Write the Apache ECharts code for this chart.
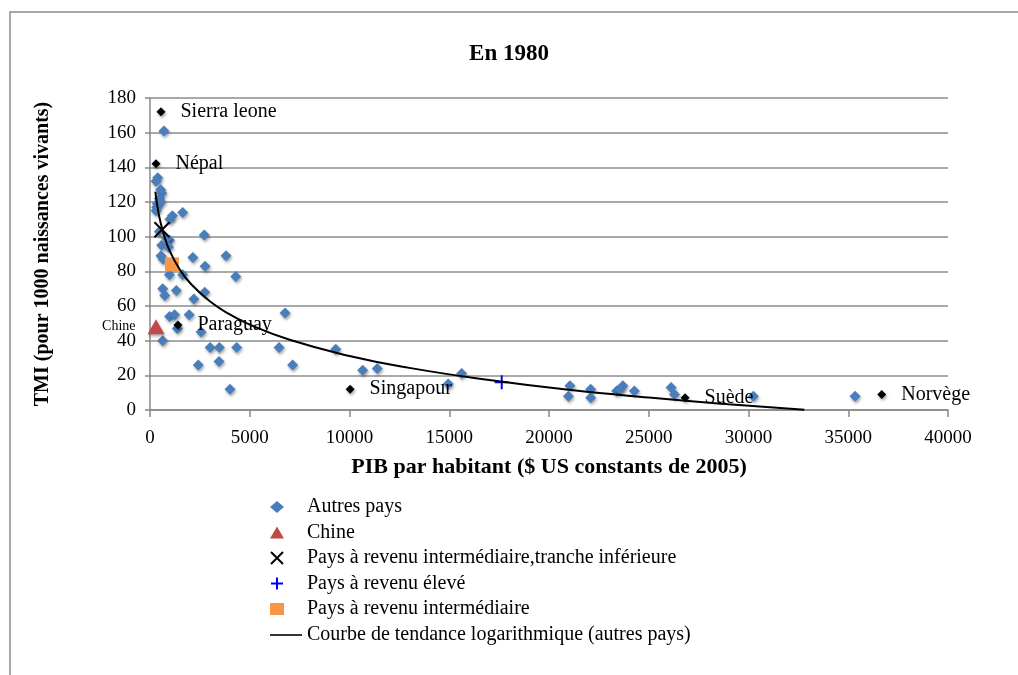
<!DOCTYPE html>
<html lang="fr">
<head>
    <meta charset="UTF-8" />
    <title>En 1980</title>
    <script src="https://cdn.jsdelivr.net/npm/echarts@6/dist/echarts.min.js"></script>
    <style>
        html, body { margin: 0; padding: 0; background: #fff; }
        #chart { width: 1018px; height: 675px; }
    </style>
</head>
<body>
<div id="chart"></div>
<script type="text/javascript">
    // valeurs (PIB par habitant, TMI)
    const autresPays = [
        [700, 161],
        [385, 134], [300, 132], [535, 127], [585, 125], [470, 122], [370, 119], [550, 120], [335, 117], [300, 115],
        [1120, 112], [1640, 114], [1000, 110], [470, 103], [2720, 101], [970, 98], [835, 99], [585, 95], [920, 94],
        [550, 89], [2150, 88], [3810, 89], [670, 87], [2760, 83], [970, 78], [1640, 78], [4300, 77],
        [635, 70], [1320, 69], [740, 66], [2740, 68], [2200, 64],
        [980, 54], [1230, 55], [1960, 55], [1370, 47], [2560, 45], [635, 40],
        [3010, 36], [3475, 36], [4345, 36], [3460, 28], [2420, 26], [4010, 12],
        [6770, 56], [6470, 36], [7150, 26], [9310, 35], [10660, 23], [11390, 24], [14950, 15], [15620, 21],
        [21050, 14], [20970, 8], [22090, 12], [22090, 7], [23700, 14], [23390, 11], [23550, 12], [24280, 11],
        [26120, 13], [26290, 9], [30240, 8], [35340, 8]
    ];
    const paysNoms = ['Sierra leone', 'Népal', 'Paraguay', 'Singapour', 'Suède', 'Norvège'];
    const paysPib = [550, 300, 1400, 10030, 26820, 36680];
    const paysTmi = [172, 142, 49, 12, 7, 9];
    const chine = [[300, 48]];
    const trancheInf = [[600, 104]];
    const revenuEleve = [[17630, 16]];
    const revenuInter = [[1100, 84]];
    // courbe de tendance relevée le long du trait
    const tendance = [
        [270, 126], [300, 123], [400, 115.5], [500, 109.7], [700, 100.9], [1000, 91.5], [1500, 80.9],
        [2000, 73.4], [3000, 62.7], [4000, 55.2], [5000, 49.3], [7000, 40.5], [10000, 31.2],
        [13000, 24.3], [17000, 17.3], [21000, 11.7], [25000, 7.2], [29000, 3.3], [32800, 0.1]
    ];
    const xTicks = { min: 0, max: 40000, interval: 5000 };
    const yTicks = { min: 0, max: 180, interval: 20 };

    const serif = 'Liberation Serif';
    const shadow = { opacity: 1, shadowBlur: 3, shadowColor: 'rgba(0,0,0,0.35)', shadowOffsetX: 1, shadowOffsetY: 2 };
    const nomCourbe = 'Courbe de tendance logarithmique (autres pays)';

    const nommes = paysNoms.map((n, i) => ({ name: n, value: [paysPib[i], paysTmi[i]] }));

    let chart = echarts.init(document.getElementById('chart'), null, { renderer: 'canvas' });
    chart.setOption({
        animation: false,
        backgroundColor: '#fff',
        title: {
            text: 'En 1980', left: 'center', top: 38,
            textStyle: { fontFamily: serif, fontSize: 23, fontWeight: 'bold', color: '#000' }
        },
        graphic: [{
            type: 'rect', silent: true,
            shape: { x: 10, y: 12, width: 1030, height: 700 },
            style: { fill: 'none', stroke: '#8c8c8c', lineWidth: 1.5 }
        }],
        grid: { left: 150, right: 70, top: 98, bottom: 265 },
        xAxis: {
            type: 'value', min: xTicks.min, max: xTicks.max, interval: xTicks.interval,
            name: 'PIB par habitant ($ US constants de 2005)', nameLocation: 'middle', nameGap: 46,
            nameTextStyle: { fontFamily: serif, fontSize: 22, fontWeight: 'bold', color: '#000' },
            axisLine: { lineStyle: { color: '#888', width: 1.5 } },
            axisTick: { show: true, length: 7, lineStyle: { color: '#888', width: 1.5 } },
            axisLabel: { fontFamily: serif, fontSize: 19, color: '#000', margin: 19, formatter: v => String(v) },
            splitLine: { show: false }
        },
        yAxis: {
            type: 'value', min: yTicks.min, max: yTicks.max, interval: yTicks.interval,
            name: 'TMI (pour 1000 naissances vivants)', nameLocation: 'middle', nameGap: 97,
            nameTextStyle: { fontFamily: serif, fontSize: 20, fontWeight: 'bold', color: '#000' },
            axisLine: { show: true, lineStyle: { color: '#888', width: 1.5 } },
            axisTick: { show: true, length: 5, lineStyle: { color: '#888', width: 1.5 } },
            axisLabel: { fontFamily: serif, fontSize: 19, color: '#000', margin: 14 },
            splitLine: { lineStyle: { color: '#8c8c8c', width: 1.5 } }
        },
        legend: [{
            orient: 'vertical', left: 265, top: 492,
            itemWidth: 14, itemHeight: 12, itemGap: 5.5,
            textStyle: { fontFamily: serif, fontSize: 20, color: '#000', padding: [0, 0, 0, 18] },
            data: ['Autres pays', 'Chine', 'Pays à revenu intermédiaire,tranche inférieure',
                'Pays à revenu élevé', 'Pays à revenu intermédiaire']
        }, {
            orient: 'vertical', left: 265, top: 620,
            itemWidth: 32, itemHeight: 12,
            textStyle: { fontFamily: serif, fontSize: 20, color: '#000' },
            data: [{ name: nomCourbe, icon: 'path://M0,0L32,0L32,1.6L0,1.6Z' }]
        }],
        series: [{
            name: 'Autres pays', type: 'scatter', symbol: 'diamond', symbolSize: 11,
            itemStyle: Object.assign({ color: '#4a7ebb' }, shadow),
            data: autresPays
        }, {
            name: 'Pays cités', type: 'scatter', symbol: 'diamond', symbolSize: 9,
            itemStyle: Object.assign({ color: '#000' }, shadow),
            label: {
                show: true, position: 'right', distance: 15, formatter: '{b}',
                fontFamily: serif, fontSize: 20, color: '#000', opacity: 1
            },
            data: nommes
        }, {
            name: 'Chine', type: 'scatter', symbol: 'triangle', symbolSize: [17, 15],
            itemStyle: Object.assign({ color: '#be4b48' }, shadow),
            label: {
                show: true, position: 'left', distance: 12, formatter: 'Chine',
                fontFamily: serif, fontSize: 14, color: '#000', opacity: 1
            },
            data: chine
        }, {
            name: 'Pays à revenu intermédiaire,tranche inférieure', type: 'scatter',
            symbol: 'path://M0,0L10,10M10,0L0,10', symbolSize: 15,
            itemStyle: { opacity: 1, color: '#000', borderColor: '#000', borderWidth: 2 },
            data: trancheInf
        }, {
            name: 'Pays à revenu élevé', type: 'scatter',
            symbol: 'path://M5,0L5,10M0,5L10,5', symbolSize: 14,
            itemStyle: { opacity: 1, color: '#0000ff', borderColor: '#0000ff', borderWidth: 2 },
            data: revenuEleve
        }, {
            name: 'Pays à revenu intermédiaire', type: 'scatter', symbol: 'rect', symbolSize: 14,
            itemStyle: { opacity: 1, color: '#f79646' },
            data: revenuInter
        }, {
            name: nomCourbe, type: 'line',
            showSymbol: false, symbol: 'none', smooth: true,
            lineStyle: { color: '#000', width: 2 }, itemStyle: { color: '#000' },
            data: tendance, z: 3
        }]
    });
</script>
</body>
</html>
